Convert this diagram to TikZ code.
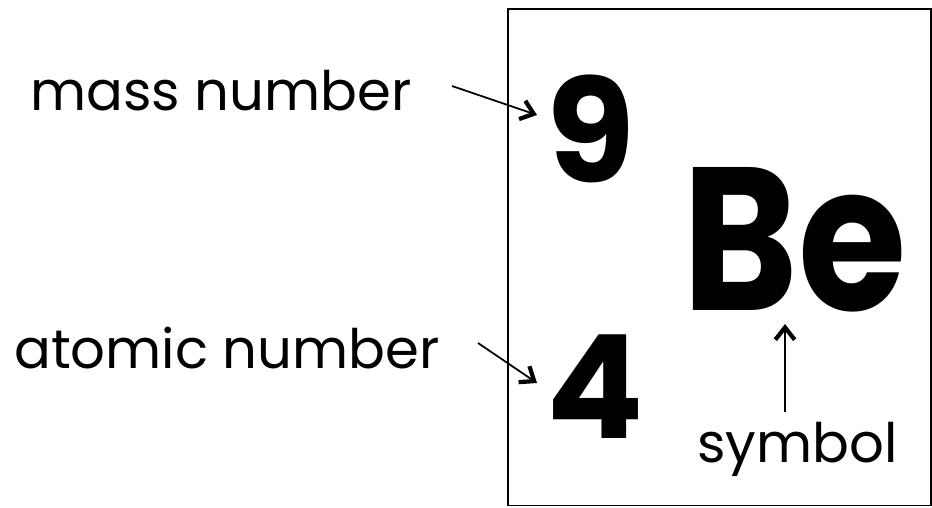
\documentclass[tikz,border=0pt]{standalone}
\usepackage{fontspec}
\setmainfont{Poppins}
\usetikzlibrary{arrows.meta, positioning, calc}

\begin{document}
\begin{tikzpicture}[
		x=0.02cm, y=-0.02cm,
		every node/.style={inner sep=0pt, anchor=base west},
		lbl/.style={font=\fontsize{31}{36}\selectfont},
		bignum/.style={font=\fontsize{82}{90}\selectfont\bfseries},
		elem/.style={font=\fontsize{100}{110}\selectfont\bfseries},
		ptr/.style={-{Straight Barb[length=7pt, width=11pt, line width=2.4pt]}, line width=1pt}
	]
		\useasboundingbox (0,0) rectangle (932,507);
		% element box
		\node[draw, line width=0.9pt, anchor=north west,
		      minimum width=8.46cm, minimum height=9.94cm] (cell) at (507,8) {};
		\node[bignum] (massNum) at (546,182) {9};
		\node[bignum] (atomNum) at (546,438) {4};
		\node[elem] (elemSym) at (682,310) {\scalebox{1}[1.16]{Be}};
		% labels
		\node[lbl] (massLbl) at (30,110) {mass number};
		\node[lbl] (atomLbl) at (14,368) {atomic number};
		\node[lbl] (symLbl) at (697,462) {symbol};
		% pointers
		\coordinate (massTail) at (452,86);
		\coordinate (massTip) at (537,115);
		\coordinate (atomTail) at (478,343);
		\coordinate (atomTip) at (537,383);
		\coordinate (symTail) at (785,412);
		\coordinate (symTip) at (785,324);
		\draw[ptr] (massTail) -- (massTip);
		\draw[ptr] (atomTail) -- (atomTip);
		\draw[ptr] (symTail) -- (symTip);
\end{tikzpicture}
\end{document}
